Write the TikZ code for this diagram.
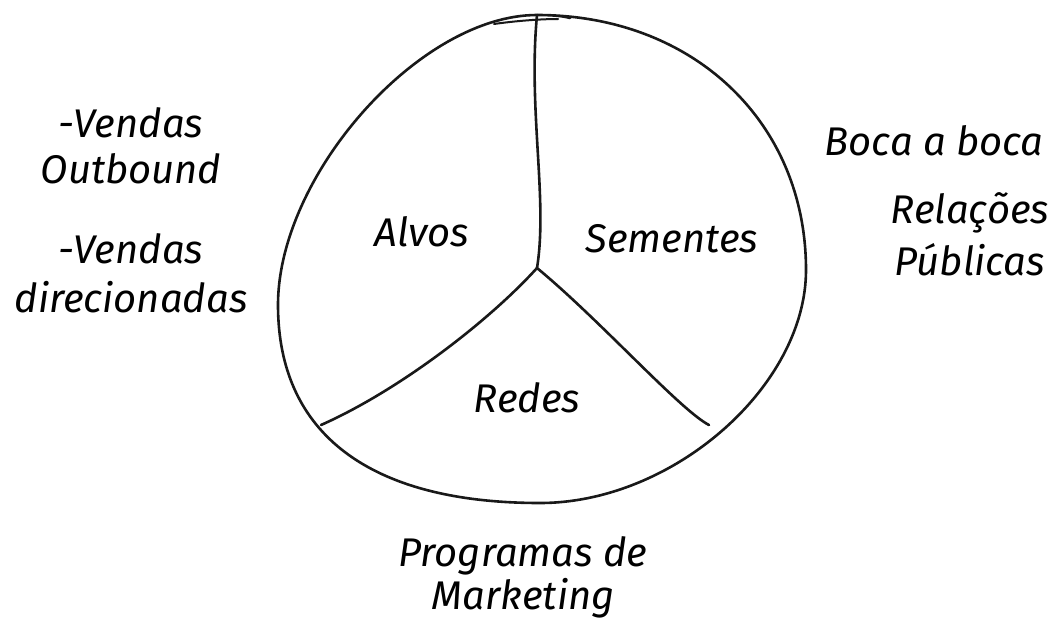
\documentclass[tikz,border=0pt]{standalone}
\usepackage{fontspec}
\setmainfont{Fira Sans}
\usetikzlibrary{positioning}

\begin{document}
\begin{tikzpicture}[
    x=1pt, y=-1pt,
    word/.style={font=\fontsize{40}{48}\selectfont\itshape, inner sep=0pt, anchor=base},
    divider/.style={line width=2.6pt, line cap=round, black!90}
]
    \useasboundingbox (0,0) rectangle (1056,621);

    % the pie, drawn freehand with a small overlap at the top
    \draw[divider] (537,15) .. controls (693,15) and (806,122) .. (806,270)
        .. controls (806,386) and (673,503) .. (540,503)
        .. controls (370,503) and (278,434) .. (278,305)
        .. controls (278,175) and (420,15) .. (537,15)
        .. controls (552,15) and (563,16) .. (570,18);
    \draw[divider, line width=2pt] (494,24) .. controls (515,21) and (540,19) .. (558,19);
    \coordinate (hub) at (537,268);
    \coordinate (top) at (537,15);
    \coordinate (sw) at (321,425);
    \coordinate (se) at (709,425);
    \draw[divider] (top) .. controls (528,110) and (548,200) .. (hub);
    \draw[divider] (hub) .. controls (490,320) and (400,390) .. (sw);
    \draw[divider] (hub) .. controls (600,320) and (680,410) .. (se);

    \node[word] (alvos) at (422,246) {Alvos};
    \node[word] (sementes) at (672,252) {Sementes};
    \node[word] (redes) at (527,412) {Redes};

    \node[word] (vendas1) at (131,137) {-Vendas};
    \node[word, below=46pt of vendas1.base, anchor=base] (outbound) {Outbound};
    \node[word] (vendas2) at (131,263) {-Vendas};
    \node[word, below=49pt of vendas2.base, anchor=base] (direcionadas) {direcionadas};

    \node[word] (boca) at (934,155) {Boca a boca};
    \node[word] (relacoes) at (970,223) {Relações};
    \node[word, below=52pt of relacoes.base, anchor=base] (publicas) {Públicas};

    \node[word] (programas) at (523,566) {Programas de};
    \node[word, below=43pt of programas.base, anchor=base] (marketing) {Marketing};
\end{tikzpicture}
\end{document}
